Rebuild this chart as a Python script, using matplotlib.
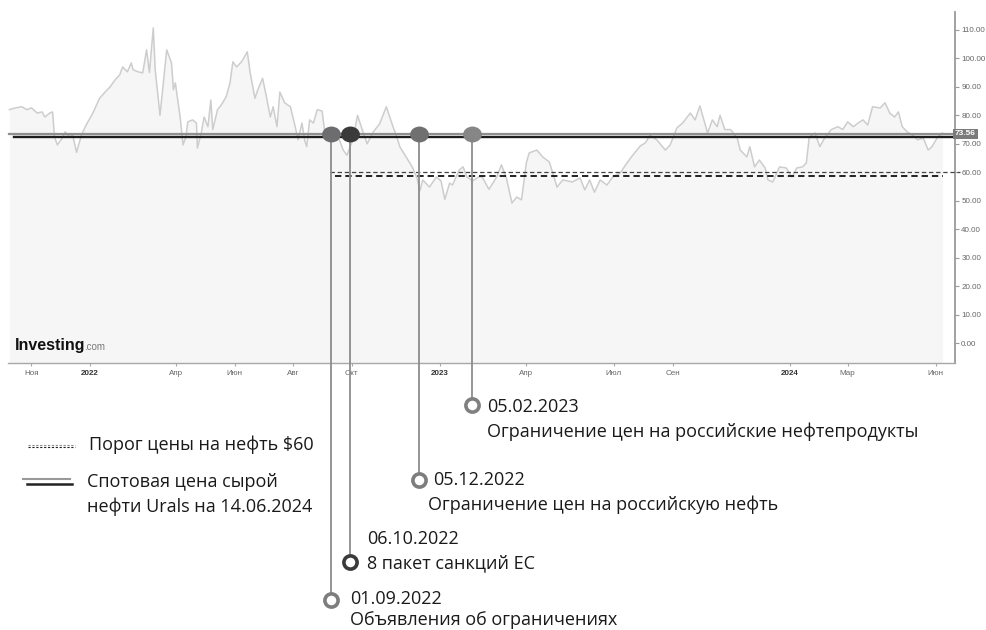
import matplotlib
matplotlib.use('Agg')
import matplotlib.pyplot as plt
from matplotlib.lines import Line2D
from matplotlib.path import Path
from matplotlib.transforms import Affine2D, blended_transform_factory
import pandas as pd

price_dates = [
    '2021-10-09', '2021-10-15', '2021-10-22', '2021-10-27', '2021-11-01', '2021-11-07',
    '2021-11-12', '2021-11-15', '2021-11-20', '2021-11-23', '2021-11-25', '2021-11-28',
    '2021-12-03', '2021-12-06', '2021-12-11', '2021-12-14', '2021-12-18', '2021-12-23',
    '2021-12-28', '2022-01-04', '2022-01-11', '2022-01-19', '2022-01-22', '2022-01-27',
    '2022-02-01', '2022-02-04', '2022-02-09', '2022-02-13', '2022-02-15', '2022-02-20',
    '2022-02-25', '2022-03-01', '2022-03-04', '2022-03-08', '2022-03-10', '2022-03-15',
    '2022-03-18', '2022-03-22', '2022-03-27', '2022-03-29', '2022-03-31', '2022-04-05',
    '2022-04-08', '2022-04-11', '2022-04-13', '2022-04-18', '2022-04-22', '2022-04-23',
    '2022-04-27', '2022-04-30', '2022-05-04', '2022-05-07', '2022-05-09', '2022-05-14',
    '2022-05-18', '2022-05-23', '2022-05-27', '2022-05-30', '2022-06-03', '2022-06-08',
    '2022-06-11', '2022-06-14', '2022-06-17', '2022-06-22', '2022-06-25', '2022-06-30',
    '2022-07-04', '2022-07-08', '2022-07-11', '2022-07-15', '2022-07-18', '2022-07-23',
    '2022-07-29', '2022-08-03', '2022-08-06', '2022-08-10', '2022-08-13', '2022-08-15',
    '2022-08-18', '2022-08-22', '2022-08-26', '2022-08-31', '2022-09-03', '2022-09-05',
    '2022-09-11', '2022-09-18', '2022-09-22', '2022-09-26', '2022-10-02', '2022-10-07',
    '2022-10-13', '2022-10-17', '2022-10-23', '2022-10-30', '2022-11-06', '2022-11-13',
    '2022-11-17', '2022-11-20', '2022-11-27', '2022-12-03', '2022-12-08', '2022-12-11',
    '2022-12-14', '2022-12-21', '2022-12-28', '2023-01-02', '2023-01-06', '2023-01-11',
    '2023-01-14', '2023-01-21', '2023-01-25', '2023-01-29', '2023-02-04', '2023-02-11',
    '2023-02-14', '2023-02-21', '2023-03-01', '2023-03-06', '2023-03-11', '2023-03-17',
    '2023-03-22', '2023-03-27', '2023-04-01', '2023-04-04', '2023-04-12', '2023-04-18',
    '2023-04-25', '2023-05-03', '2023-05-09', '2023-05-19', '2023-05-27', '2023-06-01',
    '2023-06-06', '2023-06-11', '2023-06-17', '2023-06-24', '2023-06-30', '2023-07-08',
    '2023-07-15', '2023-07-21', '2023-07-29', '2023-08-03', '2023-08-08', '2023-08-15',
    '2023-08-24', '2023-08-29', '2023-09-05', '2023-09-11', '2023-09-19', '2023-09-24',
    '2023-09-29', '2023-10-04', '2023-10-07', '2023-10-12', '2023-10-17', '2023-10-20',
    '2023-10-25', '2023-10-31', '2023-11-07', '2023-11-10', '2023-11-17', '2023-11-20',
    '2023-11-25', '2023-11-30', '2023-12-06', '2023-12-09', '2023-12-14', '2023-12-21',
    '2023-12-28', '2024-01-03', '2024-01-08', '2024-01-14', '2024-01-18', '2024-01-21',
    '2024-01-27', '2024-02-01', '2024-02-06', '2024-02-13', '2024-02-20', '2024-02-25',
    '2024-03-01', '2024-03-07', '2024-03-12', '2024-03-17', '2024-03-22', '2024-03-27',
    '2024-04-04', '2024-04-09', '2024-04-14', '2024-04-19', '2024-04-23', '2024-04-27',
    '2024-05-02', '2024-05-08', '2024-05-13', '2024-05-19', '2024-05-24', '2024-05-28',
    '2024-06-03', '2024-06-08',
]
price_values = [
    82.0, 82.6, 83.0, 82.0, 82.6, 80.8,
    81.2, 79.4, 80.8, 81.2, 72.4, 69.6,
    72.0, 74.2, 72.4, 73.0, 67.0, 73.0,
    76.6, 80.8, 86.0, 89.0, 90.0, 92.4,
    94.2, 97.0, 95.3, 98.4, 96.0, 95.3,
    94.9, 103.0, 95.0, 110.7, 96.0, 80.0,
    90.0, 103.0, 98.4, 89.0, 91.4, 79.4,
    69.6, 72.4, 77.7, 78.4, 77.3, 68.5,
    73.8, 79.4, 76.0, 85.4, 75.0, 82.0,
    83.7, 86.5, 91.4, 98.8, 97.0, 98.8,
    100.5, 102.3, 95.0, 86.0, 89.0, 93.0,
    86.5, 79.4, 83.0, 76.0, 88.2, 84.4,
    83.0, 76.0, 71.4, 77.3, 71.0, 69.0,
    78.4, 77.3, 82.0, 81.5, 73.8, 75.0,
    72.4, 71.4, 67.8, 66.0, 71.4, 80.0,
    73.8, 70.0, 74.0, 77.0, 83.0, 76.0,
    72.4, 69.0, 65.2, 61.9, 58.0, 53.5,
    57.3, 54.8, 58.3, 57.0, 50.5, 56.2,
    55.5, 60.8, 61.9, 58.3, 57.0, 58.5,
    58.3, 54.0, 58.3, 62.6, 58.3, 49.2,
    51.3, 50.3, 63.3, 66.8, 67.8, 65.4,
    63.6, 54.8, 57.3, 56.6, 58.0, 53.8,
    57.3, 53.0, 57.3, 55.5, 58.3, 59.8,
    63.3, 66.0, 69.3, 70.3, 73.0, 71.4,
    67.8, 69.6, 75.6, 77.3, 80.8, 78.4,
    83.3, 77.3, 73.8, 78.4, 76.0, 80.0,
    75.0, 75.0, 72.0, 67.8, 65.4, 69.0,
    61.9, 64.3, 61.5, 57.3, 56.6, 61.9,
    61.5, 58.3, 61.5, 61.9, 63.3, 72.4,
    73.8, 69.0, 72.0, 75.0, 76.0, 75.0,
    77.7, 76.0, 77.3, 78.4, 76.6, 83.0,
    82.6, 84.4, 80.8, 79.4, 81.2, 76.0,
    74.2, 73.0, 71.4, 72.0, 67.8, 69.0,
    72.4, 73.8,
]

spot_price = 73.56          # линия текущей цены Investing
spot_line_level = 72.3      # чёрная линия автора
cap_price = 60.0
cap_line_level = 58.7

x_tick_dates = ['2021-11-01', '2022-01-01', '2022-04-01', '2022-06-01', '2022-08-01',
                '2022-10-01', '2023-01-01', '2023-04-01', '2023-07-01', '2023-09-01',
                '2024-01-01', '2024-03-01', '2024-06-01']
x_tick_labels = ['Ноя', '2022', 'Апр', 'Июн', 'Авг', 'Окт', '2023', 'Апр', 'Июл', 'Сен',
                 '2024', 'Мар', 'Июн']
y_ticks = [0, 10, 20, 30, 40, 50, 60, 70, 80, 90, 100, 110]

# события
event_labels = ['01.09.2022', '06.10.2022', '05.12.2022', '05.02.2023']
event_texts = ['Объявления об ограничениях', '8 пакет санкций ЕС',
               'Ограничение цен на российскую нефть',
               'Ограничение цен на российские нефтепродукты']
event_marker_dates = ['2022-09-09', '2022-09-29', '2022-12-10', '2023-02-03']

W, H = 987, 630
fig = plt.figure(figsize=(W / 100, H / 100), dpi=100)
FONT = ['Open Sans', 'DejaVu Sans']
AXFONT = ['Liberation Sans', 'DejaVu Sans']
FS = 13


def fx(px):
    return px / W


def fy(py):
    return 1 - py / H


ax = fig.add_axes([fx(8), fy(363), (955 - 8) / W, (363 - 12) / H])
x0, x1 = pd.Timestamp('2021-10-07 12:00'), pd.Timestamp('2024-06-21')
y0, y1 = -7.0, 116.3
ax.set_xlim(x0, x1)
ax.set_ylim(y0, y1)

dates = pd.to_datetime(price_dates)
ax.fill_between(dates, price_values, y0, color='#f6f6f6', lw=0, zorder=1)
ax.plot(dates, price_values, color='#cdcdcd', lw=1.1, zorder=2)

# оси
for s in ['top', 'left']:
    ax.spines[s].set_visible(False)
ax.spines['right'].set_color('#9a9a9a')
ax.spines['right'].set_linewidth(1.3)
ax.spines['bottom'].set_color('#a8a8a8')
ax.spines['bottom'].set_linewidth(1.0)
ax.yaxis.tick_right()
ax.set_yticks(y_ticks)
ax.set_yticklabels([f'{v:.2f}' for v in y_ticks], family=AXFONT)
ax.tick_params(axis='y', length=3, width=0.8, color='#9a9a9a', pad=1.5,
               labelsize=5.8, labelcolor='#666666')
ax.set_xticks(pd.to_datetime(x_tick_dates))
ax.set_xticklabels(x_tick_labels, family=AXFONT)
ax.tick_params(axis='x', length=2, width=0.8, color='#a8a8a8', pad=3,
               labelsize=5.8, labelcolor='#666666')
for t in ax.get_xticklabels():
    if t.get_text().isdigit():
        t.set_fontweight('bold')
        t.set_color('#333333')

# горизонтальные линии
ax.plot([pd.Timestamp('2021-10-09'), pd.Timestamp('2024-06-23')], [spot_price] * 2,
        color='#8f8f8f', lw=1.6, clip_on=False, zorder=3)
ax.plot([pd.Timestamp('2021-10-14'), pd.Timestamp('2024-07-03')], [spot_line_level] * 2,
        color='#1e1e1e', lw=1.7, clip_on=False, zorder=3)
ax.plot([pd.Timestamp('2022-09-08'), pd.Timestamp('2024-06-26')], [cap_price] * 2,
        color='#444444', lw=0.9, dashes=(3.5, 2.2), clip_on=False, zorder=3)
ax.plot([pd.Timestamp('2022-09-13'), pd.Timestamp('2024-06-08')], [cap_line_level] * 2,
        color='#111111', lw=1.3, dashes=(3.5, 2.2), clip_on=False, zorder=3)

# метка цены
ax.text(1.0, spot_price, f'{spot_price:.2f}', transform=ax.get_yaxis_transform(),
        ha='left', va='center', fontsize=6, color='white', family=AXFONT,
        fontweight='bold',
        bbox=dict(boxstyle='square,pad=0.2', fc='#7b7b7b', ec='none'), zorder=6)

# логотип
fig.text(fx(15), fy(345), 'Investing', fontsize=11.5, fontweight='heavy',
         color='#111111', family=AXFONT, va='center', ha='left')
fig.text(fx(84), fy(347), '.com', fontsize=7, color='#777777', family=AXFONT,
         va='center', ha='left')

# маркеры событий
ellipse = Path(Affine2D().scale(1.18, 1.0).transform(Path.unit_circle().vertices),
               Path.unit_circle().codes)
marker_colors = ['#6d6d6f', '#3a3a3a', '#707070', '#868686']
ring_colors = ['#7d7d7d', '#3a3a3a', '#7d7d7d', '#808080']
ring_y = [600, 562, 480, 405]
text_pos = [(350, 599, 350, 620), (367, 539, 367, 563),
            (433, 480, 428, 505), (487, 407, 487, 432)]
blend = blended_transform_factory(ax.transData, fig.transFigure)
for i, d in enumerate(pd.to_datetime(event_marker_dates)):
    ax.plot([d, d], [fy(133), fy(ring_y[i])], color='#8c8c8c', lw=1.3,
            transform=blend, clip_on=False, zorder=4)
    ax.plot([d], [spot_price], marker=ellipse, ms=13.5, color=marker_colors[i],
            mec='none', clip_on=False, zorder=5)
    ax.plot([d], [fy(ring_y[i])], marker='o', ms=9.5, mfc='white', mec=ring_colors[i],
            mew=2.6, transform=blend, clip_on=False, zorder=5)
    dx, dy, tx, ty = text_pos[i]
    fig.text(fx(dx), fy(dy), event_labels[i], fontsize=FS, color='#1a1a1a',
             family=FONT, va='center', ha='left')
    fig.text(fx(tx), fy(ty), event_texts[i], fontsize=FS, color='#1a1a1a',
             family=FONT, va='center', ha='left')

# легенда
fig.add_artist(Line2D([fx(28), fx(75)], [fy(444.5)] * 2, color='#888888', lw=0.8,
                      dashes=(2, 1.5), transform=fig.transFigure))
fig.add_artist(Line2D([fx(28), fx(75)], [fy(446.5)] * 2, color='#222222', lw=0.8,
                      dashes=(2, 1.5), transform=fig.transFigure))
fig.text(fx(89), fy(445), 'Порог цены на нефть $60', fontsize=FS, color='#1a1a1a',
         family=FONT, va='center', ha='left')
fig.add_artist(Line2D([fx(23), fx(70)], [fy(479)] * 2, color='#999999', lw=1.5,
                      transform=fig.transFigure))
fig.add_artist(Line2D([fx(27), fx(72)], [fy(484)] * 2, color='#222222', lw=1.8,
                      transform=fig.transFigure))
fig.text(fx(87), fy(482), 'Спотовая цена сырой', fontsize=FS, color='#1a1a1a',
         family=FONT, va='center', ha='left')
fig.text(fx(87), fy(507), 'нефти Urals на 14.06.2024', fontsize=FS, color='#1a1a1a',
         family=FONT, va='center', ha='left')

fig.savefig('out.png', dpi=100)
